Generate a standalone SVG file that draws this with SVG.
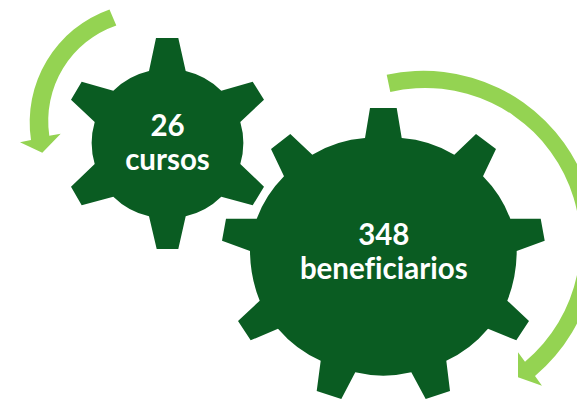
<svg xmlns="http://www.w3.org/2000/svg" width="577" height="399" viewBox="0 0 577 399">
<style>
.gear{fill:#0a5c22}
.arrow{fill:#94d352}
text{font-family:"Lato","Liberation Sans",sans-serif;font-weight:700;font-size:29.5px;fill:#fff;text-anchor:middle;font-variant-ligatures:none}
</style>
<rect width="577" height="399" fill="#fff"/>
<g id="connectors">
<path class="arrow" d="M109.5 9.5L116.3 25.5A101 101 0 0 0 49.3 135.7L60.7 133.7L42.3 152.7L20 142.3L31 140A119.5 119.5 0 0 1 109.5 9.5Z"/>
<path class="arrow" d="M386.7 74.7L390.3 92A155 155 0 0 1 525 361.7L518 352.3L518 377.3L542 385.7L535 376A173 173 0 0 0 386.7 74.7Z"/>
</g>
<g id="gear-cursos">
<path class="gear" d="M156 38L178.3 38L185.7 71A75 75 0 0 1 221.3 90.7L252.7 81.7L264 99.7L240.3 122A75 75 0 0 1 240.3 164L264 186.7L252.7 205.3L221.3 196.7A75 75 0 0 1 185.7 216.3L178.3 249L156.7 249L149 216.3A75 75 0 0 1 113.3 196.7L81.7 205.3L71 186.7L94.7 164A75 75 0 0 1 94.7 122L71 99.7L81.7 81.7L113.3 90.7A75 75 0 0 1 149 71Z"/>
<text x="167.5" y="135.7">26</text>
<text x="167.5" y="169.5">cursos</text>
</g>
<g id="gear-beneficiarios">
<path class="gear" d="M370 108L396.7 108L401.7 138A120 120 0 0 1 454.3 154.7L476 134L496 149L483 176.3A120 120 0 0 1 510.3 218.7L540.7 218.7L544.7 240.7L516.7 251A135 135 0 0 1 507.3 300.7L529 321L516.3 340.3L488 328.7A120 120 0 0 1 446.3 360.7L450 391L425.7 399L411.3 372.3A120 120 0 0 1 355.3 372.3L341.3 399L316.7 391L320.7 360.7A120 120 0 0 1 278 328.7L250.7 340.3L238 321L259.7 300.7A135 135 0 0 1 250 251L222 240.7L226 218.7L256.7 218.7A120 120 0 0 1 284 176.3L271 149L290.3 134L312.3 154.7A120 120 0 0 1 365 138Z"/>
<text x="383.8" y="245">348</text>
<text x="383.8" y="279.3">beneficiarios</text>
</g>
</svg>
